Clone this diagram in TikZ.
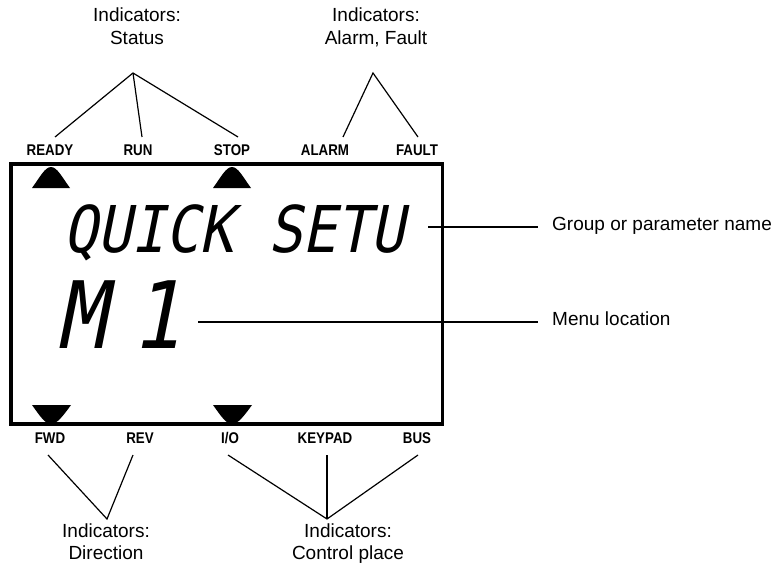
\documentclass[tikz,border=0pt]{standalone}
\usepackage{fontspec}
\setmainfont{Liberation Sans}
\newfontfamily\lcdfont{DejaVu Sans Mono}[FakeSlant=0.2,FakeStretch=0.88]
\newfontfamily\indfont{Liberation Sans}[FakeStretch=0.86]
\begin{document}
\begin{tikzpicture}[x=1pt,y=-1pt,
  lbl/.style={font=\fontsize{19}{23}\selectfont, align=center, inner sep=0pt, anchor=north},
  lblb/.style={font=\fontsize{19}{22}\selectfont, align=center, inner sep=0pt, anchor=north},
  side/.style={font=\fontsize{19}{23}\selectfont, inner sep=0pt, anchor=base west},
  ind/.style={font=\indfont\bfseries\fontsize{15.5}{15.5}\selectfont, inner sep=0pt, anchor=base},
  conn/.style={line width=1.2pt, black},
  lcd/.style={inner sep=0pt, anchor=base west},
  tri/.style={fill=black, draw=none}]
\useasboundingbox (0,0) rectangle (775,564);

% LCD frame
\draw[line width=3.3pt] (11,164) rectangle (442.5,424);

% indicator triangles
\path[tri] (32,188) .. controls (40,177) and (45,167) .. (51,167) .. controls (57,167) and (62,177) .. (70,188) -- cycle;
\path[tri] (213,188) .. controls (221,177) and (226,167) .. (232,167) .. controls (238,167) and (243,177) .. (251,188) -- cycle;
\path[tri] (32,405) -- (71,405) .. controls (63,416) and (57,424) .. (51,424) .. controls (45,424) and (40,416) .. cycle;
\path[tri] (213,405) -- (252,405) .. controls (244,416) and (238,424) .. (232,424) .. controls (226,424) and (221,416) .. cycle;

% LCD texts
\node[lcd, font=\lcdfont\fontsize{64.5}{64.5}\selectfont] (name) at (63,252) {QUICK SETU};
\node[lcd, font=\lcdfont\fontsize{93}{93}\selectfont] (menu) at (56,348) {M\hspace{26pt}1};

% indicator labels top
\node[ind] (ready) at (50,155) {READY};
\node[ind] (run) at (138,155) {RUN};
\node[ind] (stop) at (232,155) {STOP};
\node[ind] (alarm) at (325,155) {ALARM};
\node[ind] (fault) at (417,155) {FAULT};
% indicator labels bottom
\node[ind] (fwd) at (50,443) {FWD};
\node[ind] (rev) at (140,443) {REV};
\node[ind] (io) at (230,443) {I/O};
\node[ind] (keypad) at (325,443) {KEYPAD};
\node[ind] (bus) at (417,443) {BUS};

% group labels
\node[lbl] (status) at (137,7.6) {Indicators:\\Status};
\node[lbl] (af) at (376,7.6) {Indicators:\\Alarm, Fault};
\node[lblb] (dir) at (106,524) {Indicators:\\Direction};
\node[lblb] (ctrl) at (348,524) {Indicators:\\Control place};
\node[side] (gname) at (552,230) {Group or parameter name};
\node[side] (mloc) at (552,325) {Menu location};

% connector points
\coordinate (stA) at (133,73);
\coordinate (afA) at (373,73);
\coordinate (dirA) at (107,519);
\coordinate (ctA) at (327,519);
\coordinate (readyE) at (55,137);
\coordinate (runE) at (142,137);
\coordinate (stopE) at (238,137);
\coordinate (alarmE) at (343,137);
\coordinate (faultE) at (418,137);
\coordinate (fwdE) at (48,455);
\coordinate (revE) at (133,455);
\coordinate (ioE) at (228,455);
\coordinate (keypadE) at (327,455);
\coordinate (busE) at (418,455);
\coordinate (gS) at (428,227);
\coordinate (gE) at (538,227);
\coordinate (mS) at (198,322);
\coordinate (mE) at (538,322);

\draw[conn] (readyE) -- (stA) -- (stopE);
\draw[conn] (stA) -- (runE);
\draw[conn] (alarmE) -- (afA) -- (faultE);
\draw[conn] (fwdE) -- (dirA) -- (revE);
\draw[conn] (ioE) -- (ctA) -- (busE);
\draw[conn] (ctA) -- (keypadE);
\draw[conn] (gS) -- (gE);
\draw[conn] (mS) -- (mE);
\end{tikzpicture}
\end{document}
